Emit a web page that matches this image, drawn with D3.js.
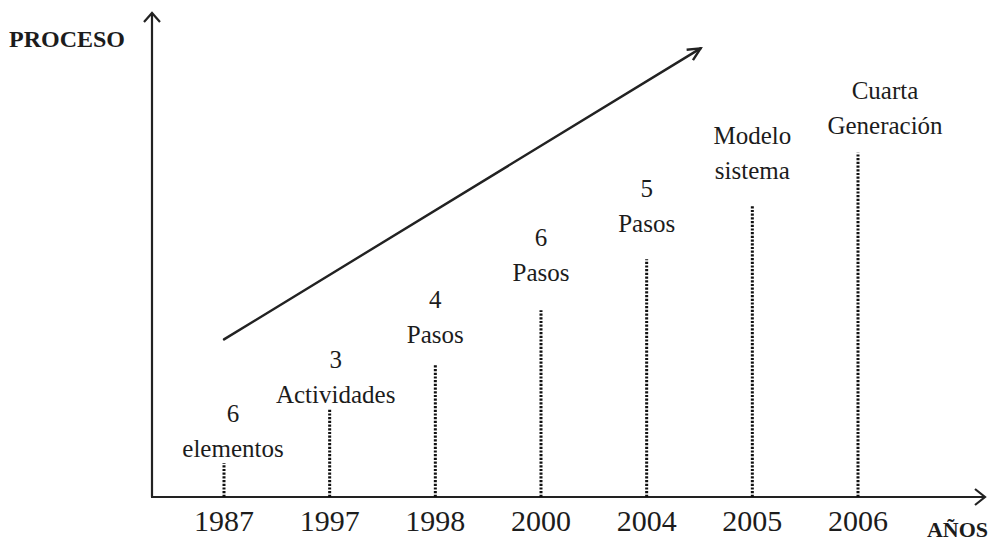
<!DOCTYPE html>
<html>
<head>
<meta charset="utf-8">
<script src="https://cdn.jsdelivr.net/npm/d3@7"></script>
<style>
  body { margin: 0; background: #fff; }
  text { font-family: "Liberation Serif", "DejaVu Serif", serif; fill: #1c1c1c; }
</style>
</head>
<body>
<svg id="chart"></svg>
<script>
// Data
var years = ["1987", "1997", "1998", "2000", "2004", "2005", "2006"];
var levels = [0.7, 1.8, 2.75, 3.85, 4.9, 6.0, 7.1];
var topLines = ["6", "3", "4", "6", "5", "Modelo", "Cuarta"];
var bottomLines = ["elementos", "Actividades", "Pasos", "Pasos", "Pasos", "sistema", "Generación"];
var trendFrom = [0, 3.25];
var trendTo = [4.51, 9.25];

// Layout
var width = 994, height = 543;
var origin = { x: 152, y: 497 };
var axisEnd = { x: 985, y: 13 };
var labelGap = [6, 7, 21, 29, 27, 27, 19];
var labelShift = [9, 6, 0, 0, 0, 0, 27];
var lineStep = 35;

var svg = d3.select("#chart").attr("width", width).attr("height", height);

var xScale = d3.scaleLinear().domain([0, years.length - 1]).range([224, 858]);
var yScale = d3.scaleLinear().domain([0, 10]).range([origin.y, 12]);

// Axes with open arrowheads
svg.append("line")
  .attr("x1", origin.x).attr("y1", origin.y)
  .attr("x2", origin.x).attr("y2", axisEnd.y)
  .attr("stroke", "#222").attr("stroke-width", 2.2);
svg.append("path")
  .attr("d", `M${origin.x - 8},${axisEnd.y + 9} L${origin.x},${axisEnd.y} L${origin.x + 8},${axisEnd.y + 9}`)
  .attr("fill", "none").attr("stroke", "#222").attr("stroke-width", 2.2);

svg.append("line")
  .attr("x1", origin.x - 1).attr("y1", origin.y)
  .attr("x2", axisEnd.x).attr("y2", origin.y)
  .attr("stroke", "#222").attr("stroke-width", 2.2);
svg.append("path")
  .attr("d", `M${axisEnd.x - 10},${origin.y - 8} L${axisEnd.x},${origin.y} L${axisEnd.x - 10},${origin.y + 8}`)
  .attr("fill", "none").attr("stroke", "#222").attr("stroke-width", 2.2);

// Axis titles
svg.append("text")
  .attr("x", 9).attr("y", 47)
  .style("font-size", "24px").style("font-weight", "bold")
  .text("PROCESO");
svg.append("text")
  .attr("x", 988).attr("y", 537)
  .attr("text-anchor", "end")
  .style("font-size", "22px").style("font-weight", "bold")
  .text("AÑOS");

// Year labels
svg.selectAll(".year")
  .data(years)
  .enter()
  .append("text")
  .attr("class", "year")
  .attr("x", (d, i) => xScale(i))
  .attr("y", 531)
  .attr("text-anchor", "middle")
  .style("font-size", "30px")
  .text(d => d);

// Dotted stems
svg.selectAll(".stem")
  .data(levels)
  .enter()
  .append("line")
  .attr("class", "stem")
  .attr("x1", (d, i) => xScale(i))
  .attr("x2", (d, i) => xScale(i))
  .attr("y1", origin.y)
  .attr("y2", d => yScale(d))
  .attr("stroke", "#111")
  .attr("stroke-width", 3)
  .attr("stroke-dasharray", "2.2 1.5");

// Stem labels
var labels = svg.selectAll(".label")
  .data(levels)
  .enter()
  .append("g")
  .attr("class", "label");

labels.append("text")
  .attr("x", (d, i) => xScale(i) + labelShift[i])
  .attr("y", (d, i) => yScale(d) - labelGap[i])
  .attr("text-anchor", "middle")
  .style("font-size", "25px")
  .text((d, i) => bottomLines[i]);

labels.append("text")
  .attr("x", (d, i) => xScale(i) + labelShift[i])
  .attr("y", (d, i) => yScale(d) - labelGap[i] - lineStep)
  .attr("text-anchor", "middle")
  .style("font-size", "25px")
  .text((d, i) => topLines[i]);

// Trend arrow
var tx1 = xScale(trendFrom[0]), ty1 = yScale(trendFrom[1]);
var tx2 = xScale(trendTo[0]), ty2 = yScale(trendTo[1]);
svg.append("line")
  .attr("x1", tx1).attr("y1", ty1)
  .attr("x2", tx2).attr("y2", ty2)
  .attr("stroke", "#222").attr("stroke-width", 2.4)
  .attr("stroke-linecap", "round");

var ang = Math.atan2(ty2 - ty1, tx2 - tx1);
var head = 14, spread = 0.45;
svg.append("path")
  .attr("d",
    `M${tx2 - head * Math.cos(ang - spread)},${ty2 - head * Math.sin(ang - spread)}` +
    ` L${tx2},${ty2}` +
    ` L${tx2 - head * Math.cos(ang + spread)},${ty2 - head * Math.sin(ang + spread)}`)
  .attr("fill", "none").attr("stroke", "#222").attr("stroke-width", 2.4);
</script>
</body>
</html>
